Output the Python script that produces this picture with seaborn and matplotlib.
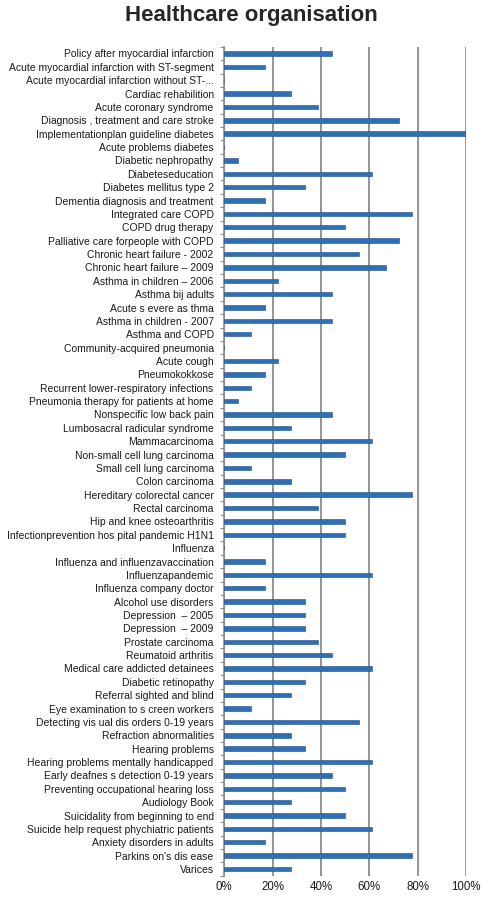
"""
Grafica de barras horizontales: porcentaje por guideline (Healthcare organisation).
Uso: python plot.py  -> genera out.png
"""

import pandas as pd
import seaborn as sns
import matplotlib.pyplot as plt
from matplotlib.ticker import FixedLocator, PercentFormatter


TITLE = "Healthcare organisation"

guidelines = [
    "Policy after myocardial infarction",
    "Acute myocardial infarction with ST-segment",
    "Acute myocardial infarction without ST-...",
    "Cardiac rehabilition",
    "Acute coronary syndrome",
    "Diagnosis , treatment and care stroke",
    "Implementationplan guideline diabetes",
    "Acute problems diabetes",
    "Diabetic nephropathy",
    "Diabeteseducation",
    "Diabetes mellitus type 2",
    "Dementia diagnosis and treatment",
    "Integrated care COPD",
    "COPD drug therapy",
    "Palliative care forpeople with COPD",
    "Chronic heart failure - 2002",
    "Chronic heart failure – 2009",
    "Asthma in children – 2006",
    "Asthma bij adults",
    "Acute s evere as thma",
    "Asthma in children - 2007",
    "Asthma and COPD",
    "Community-acquired pneumonia",
    "Acute cough",
    "Pneumokokkose",
    "Recurrent lower-respiratory infections",
    "Pneumonia therapy for patients at home",
    "Nonspecific low back pain",
    "Lumbosacral radicular syndrome",
    "Mammacarcinoma",
    "Non-small cell lung carcinoma",
    "Small cell lung carcinoma",
    "Colon carcinoma",
    "Hereditary colorectal cancer",
    "Rectal carcinoma",
    "Hip and knee osteoarthritis",
    "Infectionprevention hos pital pandemic H1N1",
    "Influenza",
    "Influenza and influenzavaccination",
    "Influenzapandemic",
    "Influenza company doctor",
    "Alcohol use disorders",
    "Depression  – 2005",
    "Depression  – 2009",
    "Prostate carcinoma",
    "Reumatoid arthritis",
    "Medical care addicted detainees",
    "Diabetic retinopathy",
    "Referral sighted and blind",
    "Eye examination to s creen workers",
    "Detecting vis ual dis orders 0-19 years",
    "Refraction abnormalities",
    "Hearing problems",
    "Hearing problems mentally handicapped",
    "Early deafnes s detection 0-19 years",
    "Preventing occupational hearing loss",
    "Audiology Book",
    "Suicidality from beginning to end",
    "Suicide help request phychiatric patients",
    "Anxiety disorders in adults",
    "Parkins on's dis ease",
    "Varices",
]

# porcentajes (%)
percent = [
    44.4, 16.7, 0.0, 27.8, 38.9, 72.2, 100.0, 0.0, 5.6, 61.1,
    33.3, 16.7, 77.8, 50.0, 72.2, 55.6, 66.7, 22.2, 44.4, 16.7,
    44.4, 11.1, 0.0, 22.2, 16.7, 11.1, 5.6, 44.4, 27.8, 61.1,
    50.0, 11.1, 27.8, 77.8, 38.9, 50.0, 50.0, 0.0, 16.7, 61.1,
    16.7, 33.3, 33.3, 33.3, 38.9, 44.4, 61.1, 33.3, 27.8, 11.1,
    55.6, 27.8, 33.3, 61.1, 44.4, 50.0, 27.8, 50.0, 61.1, 16.7,
    77.8, 27.8,
]

x_ticks = [0, 20, 40, 60, 80, 100]


def plot_bars(df, output_path):
    sns.set_theme(style="white")
    plt.rcParams["font.family"] = ["Liberation Sans", "DejaVu Sans"]

    fig, ax = plt.subplots(figsize=(4.83, 9.0), dpi=100)
    fig.subplots_adjust(left=0.464, right=0.965, top=0.948, bottom=0.027)

    # Barras finas azules
    sns.barplot(
        data=df,
        x="percent",
        y="guideline",
        orient="h",
        color="#2f6fb5",
        saturation=1,
        width=0.33,
        edgecolor="#1f4f8a",
        linewidth=0.4,
        ax=ax,
        zorder=3,
    )

    ax.set_xlim(0, 100)
    ax.set_ylim(len(df) - 0.5, -0.5)
    ax.xaxis.set_major_locator(FixedLocator(x_ticks))
    ax.xaxis.set_major_formatter(PercentFormatter(decimals=0))
    ax.grid(axis="x", color="#8c8c8c", linewidth=1.3, zorder=0)
    ax.grid(axis="y", visible=False)

    for side in ("top", "right", "bottom"):
        ax.spines[side].set_visible(False)
    ax.spines["left"].set_color("#8c8c8c")
    ax.spines["left"].set_linewidth(1.2)

    # marcas pequenas entre categorias (estilo Excel)
    ax.yaxis.set_minor_locator(FixedLocator([i - 0.5 for i in range(len(df) + 1)]))
    ax.tick_params(axis="y", which="major", length=0, labelsize=7.45, pad=7.5, colors="#1a1a1a")
    ax.tick_params(axis="y", which="minor", length=3, width=0.8, color="#8c8c8c", left=True)
    ax.tick_params(axis="x", length=0, labelsize=8.3, pad=4, colors="#1a1a1a")

    ax.set_xlabel("")
    ax.set_ylabel("")
    fig.suptitle(TITLE, x=0.52, y=0.994, fontsize=16, fontweight="bold")

    plt.savefig(output_path, dpi=100)
    plt.close()


def main():
    df = pd.DataFrame({"guideline": guidelines, "percent": percent})
    plot_bars(df, "out.png")


if __name__ == "__main__":
    main()
